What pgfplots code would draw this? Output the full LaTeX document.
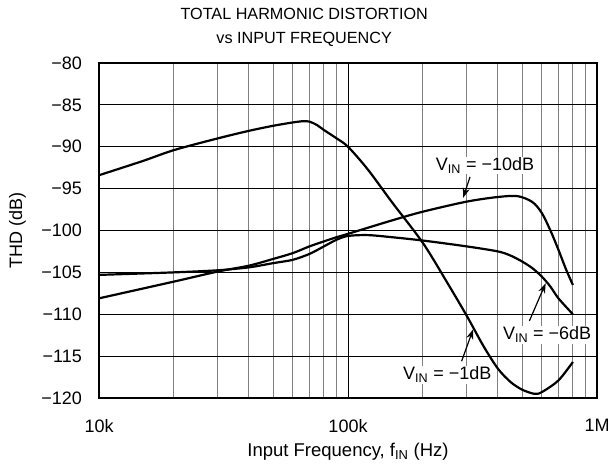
\documentclass[border=0pt]{standalone}
\usepackage{fontspec}
\setmainfont{Liberation Sans}
\usepackage{pgfplots}
\pgfplotsset{compat=1.18}
\usetikzlibrary{arrows.meta}
\begin{document}
\fontsize{18}{22}\selectfont
\begin{tikzpicture}
\path[use as bounding box] (-99pt,-67pt) rectangle (509pt,398pt);
\begin{axis}[
  at={(0pt,0pt)}, anchor=south west,
  scale only axis, width=498pt, height=335pt,
  xmode=log, xmin=1e4, xmax=1e6, ymin=-120, ymax=-80,
  xtick={1e4,1e5,1e6}, xticklabels={10k,100k,1M},
  ytick={-120,-115,-110,-105,-100,-95,-90,-85,-80},
  yticklabels={−120,−115,−110,−105,−100,−95,−90,−85,−80},
  major tick length=0pt, minor tick length=0pt,
  grid=both,
  major grid style={black, line width=1pt},
  minor grid style={black!50, line width=1pt},
  axis line style={line width=2pt},
  xticklabel style={yshift=-15pt},
  yticklabel style={xshift=-11pt},
  xlabel={Input Frequency, f\textsubscript{IN} (Hz)},
  xlabel style={at={(axis description cs:0.5,-0.176)}, anchor=base, font=\fontsize{18.5}{22}\selectfont},
  ylabel={THD (dB)},
  ylabel style={at={(axis description cs:-0.1637,0.5)}, anchor=center},
  title={TOTAL HARMONIC DISTORTION\\vs INPUT FREQUENCY},
  title style={at={(axis description cs:0.412,1.0388)}, anchor=base, align=center, font=\fontsize{16.2}{24}\selectfont},
  clip=false,
]
% V_IN = -1dB
\addplot[black, line width=2.2pt, smooth] coordinates {
(10000,-93.4)(15000,-91.7)(20000,-90.4)(30000,-89.0)(40000,-88.1)(50000,-87.5)
(60000,-87.1)(66000,-86.95)(70000,-87.0)(75000,-87.4)(80000,-88.0)(90000,-89.0)
(100000,-90.0)(120000,-92.7)(150000,-96.6)(200000,-101.5)(250000,-106.2)
(300000,-110.2)(350000,-113.8)(400000,-116.5)(450000,-118.1)(500000,-119.0)
(560000,-119.5)(600000,-119.3)(700000,-117.9)(800000,-115.7)};
% V_IN = -10dB
\addplot[black, line width=2.2pt, smooth] coordinates {
(10000,-108.1)(20000,-106.1)(30000,-104.9)(40000,-104.2)(50000,-103.4)(60000,-102.7)
(70000,-101.9)(80000,-101.3)(90000,-100.8)(100000,-100.4)(150000,-98.8)(200000,-97.75)
(300000,-96.55)(400000,-96.0)(480000,-95.9)(550000,-96.6)(600000,-97.9)(650000,-100.0)
(700000,-102.3)(750000,-104.6)(800000,-106.5)};
% V_IN = -6dB
\addplot[black, line width=2.2pt, smooth] coordinates {
(10000,-105.3)(20000,-105.0)(30000,-104.75)(40000,-104.4)(50000,-103.9)(60000,-103.5)
(70000,-102.8)(80000,-101.9)(90000,-101.1)(100000,-100.65)(120000,-100.55)(150000,-100.8)
(200000,-101.2)(300000,-101.9)(400000,-102.5)(450000,-103.0)(500000,-103.7)(550000,-104.5)
(600000,-105.5)(650000,-106.7)(700000,-108.1)(800000,-110.0)};
% annotations
\node[fill=white, inner sep=1pt, anchor=base west] at (axis cs:223000,-92.86) {V\textsubscript{IN} = −10dB};
\draw[line width=1.2pt, -{Stealth[length=10pt,width=7pt]}] (axis cs:309000,-93.6) -- (axis cs:290000,-96.1);
\node[fill=white, inner sep=1pt, anchor=base west] at (axis cs:415000,-113.07) {V\textsubscript{IN} = −6dB};
\draw[line width=1.2pt, -{Stealth[length=10pt,width=7pt]}] (axis cs:535000,-110.8) -- (axis cs:622000,-106.3);
\node[fill=white, inner sep=1pt, anchor=base west] at (axis cs:164800,-117.85) {V\textsubscript{IN} = −1dB};
\draw[line width=1.2pt, -{Stealth[length=10pt,width=7pt]}] (axis cs:286000,-115.6) -- (axis cs:318000,-111.8);
\end{axis}
\end{tikzpicture}
\end{document}
